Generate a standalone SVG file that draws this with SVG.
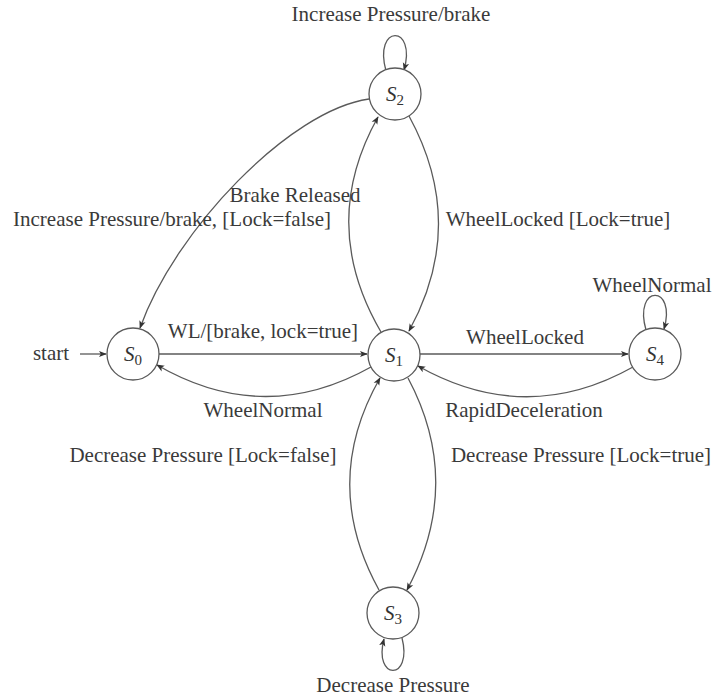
<svg xmlns="http://www.w3.org/2000/svg" width="718" height="697" viewBox="0 0 718 697">
  <style>
    .state circle { fill: #ffffff; stroke: #5a5a5a; stroke-width: 1.3; }
    .state text { font-family: "Liberation Serif", "Times New Roman", serif; font-size: 21px; font-style: italic; fill: #333333; text-anchor: middle; }
    .state .sub { font-style: normal; font-size: 15px; }
    .edge { fill: none; stroke: #5a5a5a; stroke-width: 1.3; marker-end: url(#arrow); }
    .label { font-family: "Liberation Serif", "Times New Roman", serif; font-size: 21px; fill: #3a3a3a; text-anchor: middle; }
  </style>
  <defs>
    <marker id="arrow" viewBox="0 0 10 10" refX="9" refY="5" markerWidth="8" markerHeight="8" markerUnits="userSpaceOnUse" orient="auto">
      <path d="M0,1 L10,5 L0,9 L2.5,5 z" fill="#333333"/>
    </marker>
  </defs>
  <rect width="718" height="697" fill="#ffffff"/>

  <!-- transitions -->
  <g id="connectors">
    <!-- initial arrow -->
    <path class="edge" d="M 80 354 L 106 354"/>
    <!-- S0 -> S1 -->
    <path class="edge" d="M 159 354 L 367 354"/>
    <!-- S1 -> S0 -->
    <path class="edge" d="M 371 367 Q 264 427 157 365"/>
    <!-- S1 -> S4 -->
    <path class="edge" d="M 420 354 L 628 354"/>
    <!-- S4 -> S1 -->
    <path class="edge" d="M 633 367 Q 526 427 418 366"/>
    <!-- S1 -> S2 -->
    <path class="edge" d="M 381 332 Q 318 224 378 117"/>
    <!-- S2 -> S1 -->
    <path class="edge" d="M 409 116 Q 468 224 409 331"/>
    <!-- S1 -> S3 -->
    <path class="edge" d="M 408 378 Q 464 483 407 590"/>
    <!-- S3 -> S1 -->
    <path class="edge" d="M 379 590 Q 320 483 380 378"/>
    <!-- S2 -> S0 -->
    <path class="edge" d="M 369 99 C 290 110, 175 230, 140 328"/>
    <!-- self loops -->
    <path class="edge" d="M 386 71 C 373 24, 417 24, 404 70"/>
    <path class="edge" d="M 646 330 C 633 284, 677 284, 664 329"/>
    <path class="edge" d="M 402 638 C 413 681, 373 681, 384 639"/>
  </g>

  <!-- transition labels -->
  <g id="labels">
    <text class="label" x="391" y="21">Increase Pressure/brake</text>
    <text class="label" x="295" y="202">Brake Released</text>
    <text class="label" x="172" y="226">Increase Pressure/brake, [Lock=false]</text>
    <text class="label" x="558" y="226">WheelLocked [Lock=true]</text>
    <text class="label" x="263" y="338">WL/[brake, lock=true]</text>
    <text class="label" x="525" y="344">WheelLocked</text>
    <text class="label" x="652" y="292">WheelNormal</text>
    <text class="label" x="51" y="360">start</text>
    <text class="label" x="263" y="417">WheelNormal</text>
    <text class="label" x="524" y="417">RapidDeceleration</text>
    <text class="label" x="203" y="462">Decrease Pressure [Lock=false]</text>
    <text class="label" x="581" y="462">Decrease Pressure [Lock=true]</text>
    <text class="label" x="393" y="692">Decrease Pressure</text>
  </g>

  <!-- states -->
  <g id="S0" class="state">
    <circle cx="133" cy="354" r="26"/>
    <text x="133" y="361">S<tspan class="sub" dy="4">0</tspan></text>
  </g>
  <g id="S1" class="state">
    <circle cx="394" cy="355" r="26"/>
    <text x="394" y="362">S<tspan class="sub" dy="4">1</tspan></text>
  </g>
  <g id="S2" class="state">
    <circle cx="395" cy="94" r="26"/>
    <text x="395" y="101">S<tspan class="sub" dy="4">2</tspan></text>
  </g>
  <g id="S3" class="state">
    <circle cx="393" cy="613" r="26"/>
    <text x="393" y="620">S<tspan class="sub" dy="4">3</tspan></text>
  </g>
  <g id="S4" class="state">
    <circle cx="655" cy="354" r="26"/>
    <text x="655" y="361">S<tspan class="sub" dy="4">4</tspan></text>
  </g>
</svg>
